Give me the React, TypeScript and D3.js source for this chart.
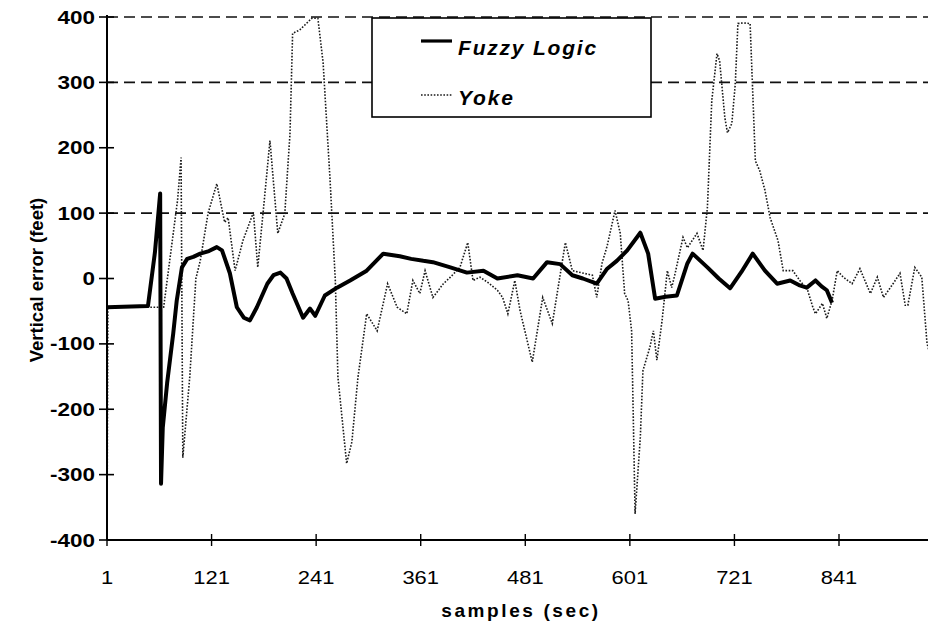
import React from "react";
import { scaleLinear, line } from "d3";

const fuzzySamples = [1, 48, 56, 62, 63, 65, 70, 77, 81, 87, 93, 100, 108, 118, 127, 133, 142, 150, 158, 165, 173, 185, 192, 200, 207, 214, 226, 234, 240, 251, 265, 280, 299, 318, 337, 350, 364, 375, 395, 414, 433, 449, 472, 490, 506, 521, 535, 547, 563, 575, 586, 598, 613, 622, 630, 642, 655, 667, 673, 690, 703, 716, 729, 742, 756, 770, 785, 795, 804, 814, 821, 827, 833];
const fuzzyValues = [-44, -42, 40, 130, -314, -228, -160, -84, -34, 17, 30, 33, 38, 42, 48, 43, 8, -44, -60, -64, -44, -8, 5, 9, 0, -23, -60, -46, -57, -26, -14, -3, 12, 38, 34, 30, 27, 25, 17, 9, 12, 0, 5, 0, 25, 22, 5, 0, -8, 15, 27, 43, 70, 38, -31, -28, -26, 23, 38, 17, 0, -15, 10, 38, 12, -8, -3, -10, -14, -3, -12, -18, -37];

const yokeSamples = [1, 2, 48, 66, 82, 86, 88, 96, 103, 108, 117, 127, 136, 140, 148, 157, 169, 174, 180, 188, 197, 205, 211, 214, 222, 236, 243, 249, 257, 263, 266, 276, 282, 289, 299, 311, 323, 334, 345, 352, 360, 366, 375, 387, 395, 406, 415, 421, 429, 438, 449, 455, 461, 469, 475, 489, 501, 512, 527, 535, 558, 563, 569, 575, 584, 590, 595, 599, 603, 605, 607, 613, 616, 624, 628, 632, 638, 644, 649, 653, 662, 667, 678, 685, 690, 695, 701, 704, 710, 713, 718, 722, 725, 731, 739, 745, 750, 756, 762, 771, 777, 788, 796, 805, 811, 814, 822, 827, 833, 839, 846, 856, 865, 877, 885, 892, 903, 911, 917, 920, 928, 936, 942, 948];
const yokeValues = [-400, -44, -44, -44, 120, 185, -274, -150, 0, 27, 100, 145, 86, 93, 12, 58, 101, 17, 99, 211, 69, 99, 222, 375, 380, 398, 398, 330, 150, -3, -151, -283, -250, -151, -54, -80, -8, -44, -54, -3, -23, 12, -29, -8, 2, 17, 55, -3, 2, -6, -18, -29, -54, -3, -49, -128, -29, -69, 55, 12, 5, -29, 23, 50, 104, 69, -23, -34, -80, -217, -360, -243, -141, -105, -80, -125, -64, 12, -14, 8, 63, 47, 69, 43, 109, 272, 344, 333, 246, 223, 237, 298, 390, 391, 390, 180, 165, 135, 93, 58, 12, 12, -3, -18, -44, -54, -38, -61, -34, 12, 2, -8, 15, -23, 2, -29, -8, 8, -41, -41, 17, 2, -99, -130];

const xTicks = [1, 121, 241, 361, 481, 601, 721, 841];
const yTicks = [-400, -300, -200, -100, 0, 100, 200, 300, 400];
const gridValues = [400, 300, 100];

const legendItems = ["Fuzzy Logic", "Yoke"];

const font = "'Liberation Sans', Arial, Helvetica, sans-serif";

export default function App() {
  const width = 928;
  const height = 630;

  const xScale = scaleLinear().domain([1, 841]).range([107, 839]);
  const yScale = scaleLinear().domain([-400, 400]).range([540, 17]);

  const fuzzy = fuzzySamples.map((s, i) => [s, fuzzyValues[i]] as [number, number]);
  const yoke = yokeSamples.map((s, i) => [s, yokeValues[i]] as [number, number]);

  const path = line<[number, number]>()
    .x((d) => xScale(d[0]))
    .y((d) => yScale(d[1]));

  const axisX = xScale(1);
  const axisY = yScale(-400);

  return (
    <svg
      width={width}
      height={height}
      style={{ position: "absolute", left: 0, top: 0, background: "#fff" }}
      fontFamily={font}
    >
      <rect width={width} height={height} fill="#fff" />

      {/* dashed grid */}
      {gridValues.map((v) => (
        <line
          key={v}
          x1={axisX}
          x2={width}
          y1={yScale(v)}
          y2={yScale(v)}
          stroke="#111"
          strokeWidth={1.7}
          strokeDasharray="11,6"
        />
      ))}

      {/* series */}
      <path
        d={path(yoke) || ""}
        fill="none"
        stroke="#1a1a1a"
        strokeWidth={1.6}
        strokeDasharray="1.6,1.6"
      />
      <path
        d={path(fuzzy) || ""}
        fill="none"
        stroke="#000"
        strokeWidth={4}
        strokeLinejoin="round"
      />

      {/* axes */}
      <line x1={axisX} x2={axisX} y1={yScale(400) - 2} y2={axisY} stroke="#000" strokeWidth={2} />
      <line x1={axisX} x2={width} y1={axisY} y2={axisY} stroke="#000" strokeWidth={1.8} />

      {yTicks.map((t) => (
        <g key={t}>
          <line x1={axisX - 8} x2={axisX + 7} y1={yScale(t)} y2={yScale(t)} stroke="#000" strokeWidth={1.6} />
          <text
            transform={`translate(${axisX - 12},${yScale(t) + 6.5}) scale(1.25,1)`}
            textAnchor="end"
            fontSize={18}
            fontWeight="bold"
          >
            {t}
          </text>
        </g>
      ))}

      {xTicks.map((t) => (
        <g key={t}>
          <line x1={xScale(t)} x2={xScale(t)} y1={axisY - 6} y2={axisY + 6} stroke="#000" strokeWidth={1.4} />
          <text
            transform={`translate(${xScale(t)},${584}) scale(1.22,1)`}
            textAnchor="middle"
            fontSize={18}
          >
            {t}
          </text>
        </g>
      ))}

      <text
        x={521}
        y={617}
        textAnchor="middle"
        fontSize={19}
        fontWeight="bold"
        letterSpacing={2.6}
      >
        samples (sec)
      </text>

      <text
        transform="translate(43,280) rotate(-90)"
        textAnchor="middle"
        fontSize={18.5}
        fontWeight="bold"
      >
        Vertical error (feet)
      </text>

      {/* legend */}
      <rect x={372} y={18} width={279} height={99} fill="#fff" stroke="#000" strokeWidth={1.6} />
      {legendItems.map((name, i) => (
        <g key={name}>
          <line
            x1={421}
            x2={452}
            y1={41 + i * 54}
            y2={41 + i * 54}
            stroke={i === 0 ? "#000" : "#1a1a1a"}
            strokeWidth={i === 0 ? 3.2 : 1.5}
            strokeDasharray={i === 0 ? undefined : "1.6,1.6"}
          />
          <text
            x={458}
            y={55 + i * 50}
            fontSize={21}
            fontWeight="bold"
            fontStyle="italic"
            letterSpacing={1.8}
          >
            {name}
          </text>
        </g>
      ))}
    </svg>
  );
}
